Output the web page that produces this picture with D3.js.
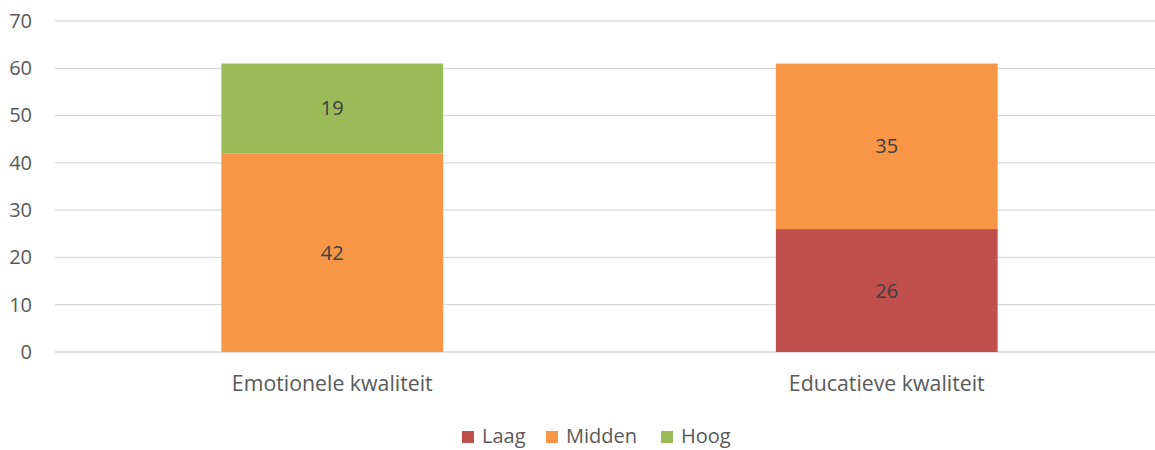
<!DOCTYPE html>
<html><head><meta charset="utf-8">
<script src="https://cdn.jsdelivr.net/npm/d3@7"></script>
<style>body{margin:0;background:#fff;} svg{display:block;font-family:"Open Sans",Lato,sans-serif;}</style>
</head><body><svg id="c" width="1155" height="450"></svg>
<script>
const categories = ["Emotionele kwaliteit", "Educatieve kwaliteit"];
const seriesNames = ["Laag", "Midden", "Hoog"];
const laag = [0, 26];
const midden = [42, 35];
const hoog = [19, 0];
const yTicks = [0, 10, 20, 30, 40, 50, 60, 70];
const colors = ["#C0504D", "#F79646", "#9BBB59"];

(function(){
const FS = "20px";
const svg = d3.select("#c");
const mLeft = 55, mRight = 1164, mTop = 21, mBottom = 352;
const x = d3.scaleBand().domain(categories).range([mLeft, mRight]).padding(0);
const y = d3.scaleLinear().domain([0, 70]).range([mBottom, mTop]);

// gridlines
svg.append("g").selectAll("line").data(yTicks).join("line")
  .attr("x1", mLeft).attr("x2", mRight)
  .attr("y1", d => y(d)).attr("y2", d => y(d))
  .attr("stroke", "#D9D9D9").attr("stroke-width", 1.3);

// y axis labels
const yAxis = d3.axisLeft(y).tickValues(yTicks).tickSize(0).tickPadding(0);
const gy = svg.append("g").attr("transform", `translate(32,0)`).call(yAxis);
gy.select(".domain").remove();
gy.selectAll("text").attr("fill", "#595959").style("font-size", FS).style("font-family", "'Open Sans',Lato,sans-serif").attr("text-anchor", "end").attr("x", 0);

// stack
const rows = categories.map((c, i) => ({cat: c, Laag: laag[i], Midden: midden[i], Hoog: hoog[i]}));
const stack = d3.stack().keys(seriesNames)(rows);
const bw = x.bandwidth() * 0.4;
stack.forEach((s, si) => {
  const g = svg.append("g");
  s.forEach(d => {
    const v = d[1] - d[0];
    if (v <= 0) return;
    const cx = x(d.data.cat) + x.bandwidth() / 2;
    g.append("rect").attr("x", cx - bw / 2).attr("width", bw)
      .attr("y", y(d[1])).attr("height", y(d[0]) - y(d[1]))
      .attr("fill", colors[si]);
    g.append("text").attr("x", cx).attr("y", (y(d[0]) + y(d[1])) / 2)
      .attr("dy", "0.35em").attr("text-anchor", "middle")
      .attr("fill", "#404040").style("font-size", FS).text(v);
  });
});

// x axis labels
const xAxis = d3.axisBottom(x).tickSize(0).tickPadding(0);
const gx = svg.append("g").attr("transform", `translate(0,${mBottom})`).call(xAxis);
gx.select(".domain").remove();
gx.selectAll("text").attr("fill", "#595959").style("font-size", "21.3px").style("font-family", "'Open Sans',Lato,sans-serif").attr("y", 39).attr("dy", "0");

// legend
const legX = [462, 546, 661];
const lg = svg.append("g");
seriesNames.forEach((n, i) => {
  lg.append("rect").attr("x", legX[i]).attr("y", 431).attr("width", 12).attr("height", 12).attr("fill", colors[i]);
  lg.append("text").attr("x", legX[i] + 20).attr("y", 443)
    .attr("fill", "#595959").style("font-size", FS).text(n);
});
})();
</script></body></html>
